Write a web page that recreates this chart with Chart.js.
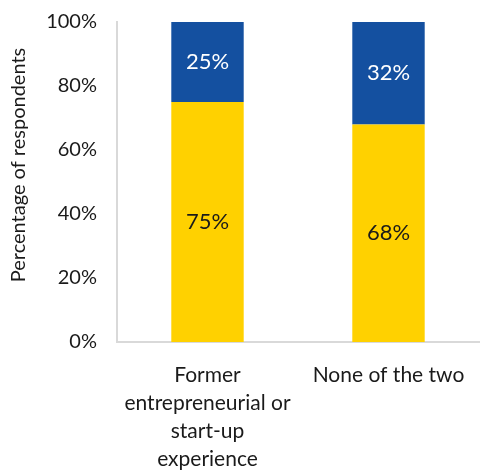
<!DOCTYPE html>
<html>
<head>
<meta charset="utf-8">
<script src="https://cdn.jsdelivr.net/npm/chart.js@4"></script>
<style>
  html, body { margin: 0; padding: 0; background: #fff; }
  #wrap { width: 487px; height: 474px; }
</style>
</head>
<body>
<div id="wrap"><canvas id="myBarChart" width="487" height="474"></canvas></div>
<script>
// chart data
const categories = [['Former', 'entrepreneurial or', 'start-up', 'experience'], 'None of the two'];
const bottomValues = [75, 68];
const topValues = [25, 32];
const yTicks = [0, 20, 40, 60, 80, 100];
const yTitle = 'Percentage of respondents';

const FONT = "'Century Gothic', 'Lato', 'Open Sans', sans-serif";

// writes the percentage in the middle of each bar segment, plus the y title
const barLabels = {
  id: 'barLabels',
  afterDatasetsDraw(chart) {
    const ctx = chart.ctx;
    ctx.save();
    ctx.font = '22px ' + FONT;
    ctx.textAlign = 'center';
    ctx.textBaseline = 'middle';
    chart.data.datasets.forEach((ds, i) => {
      chart.getDatasetMeta(i).data.forEach((bar, j) => {
        const mid = (bar.y + bar.base) / 2;
        ctx.fillStyle = ds.labelColor;
        ctx.fillText(ds.data[j] + '%', bar.x, mid);
      });
    });
    ctx.translate(19, 165);
    ctx.rotate(-Math.PI / 2);
    ctx.fillStyle = '#1a1a1a';
    ctx.font = '20px ' + FONT;
    ctx.fillText(yTitle, 0, 0);
    ctx.restore();
  }
};

const ctx = document.getElementById('myBarChart').getContext('2d');
const myBarChart = new Chart(ctx, {
  type: 'bar',
  data: {
    labels: categories,
    datasets: [{
      data: bottomValues,
      backgroundColor: '#FFD100',
      labelColor: '#1a1a1a',
      barPercentage: 0.4,
      categoryPercentage: 1,
    }, {
      data: topValues,
      backgroundColor: '#1450A0',
      labelColor: '#ffffff',
      barPercentage: 0.4,
      categoryPercentage: 1,
    }],
  },
  options: {
    responsive: false,
    animation: false,
    layout: { padding: { left: 0, right: 8, top: 22, bottom: 0 } },
    plugins: {
      legend: { display: false },
      tooltip: { enabled: false },
    },
    scales: {
      x: {
        stacked: true,
        grid: { display: false, drawTicks: false },
        border: { color: '#d9d9d9', width: 2 },
        ticks: {
          color: '#1a1a1a',
          font: { family: FONT, size: 21, lineHeight: 1.33 },
          padding: 19,
          maxRotation: 0,
        },
        afterFit: (scale) => { scale.height = 132; },
      },
      y: {
        stacked: true,
        min: 0,
        max: 100,
        afterBuildTicks: (scale) => { scale.ticks = yTicks.map(v => ({ value: v })); },
        grid: { display: false, drawTicks: false },
        border: { color: '#d9d9d9', width: 2 },
        ticks: {
          color: '#1a1a1a',
          font: { family: FONT, size: 20 },
          padding: 20,
          callback: (v) => v + '%',
        },
        afterFit: (scale) => {
          scale.width = 117;
          scale.paddingTop = 0;
          scale.paddingBottom = 0;
        },
      },
    },
  },
  plugins: [barLabels],
});
</script>
</body>
</html>
